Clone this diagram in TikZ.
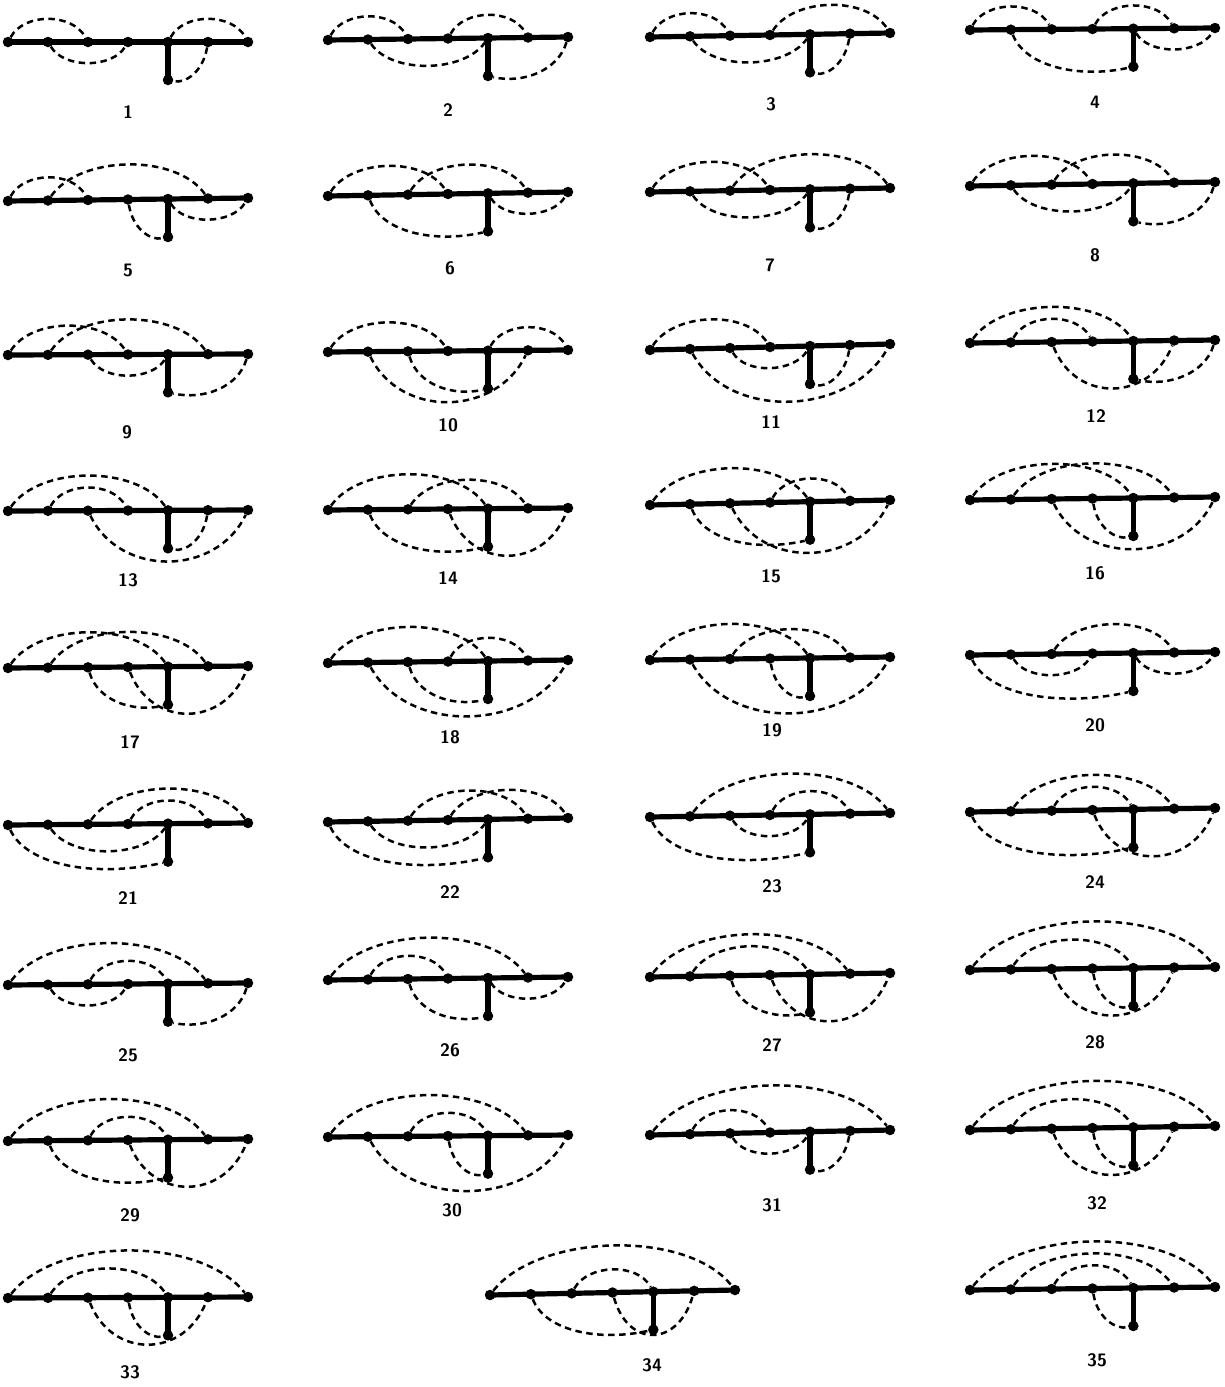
\documentclass[tikz,border=0pt]{standalone}
\usetikzlibrary{calc}
\tikzset{
  dot/.style={circle,fill=black,inner sep=0pt,minimum size=10.5pt},
  thickline/.style={line width=5.2pt},
  dasharc/.style={line width=2.5pt,dash pattern=on 6.5pt off 4.5pt},
  lab/.style={font=\fontsize{18}{18}\selectfont\sffamily\bfseries}
}
% #1 prefix, #2 xL, #3 yL, #4 xR, #5 yR, #6 label x, #7 label y, #8 label
\newcommand\Gr[8]{%
  \foreach \i in {0,...,6}{\node[dot] (#1n\i) at ({#2+(#4-#2)*\i/6},{#3+(#5-#3)*\i/6}) {};}
  \draw[thickline] (#1n0.center) -- (#1n6.center);
  \node[dot] (#1p) at ($(#1n4)+(0,38)$) {};
  \draw[thickline] (#1n4.center) -- (#1p.center);
  \node[lab] (#1l) at (#6,#7) {#8};
}
\newcommand\Up[3]{%
  \pgfmathsetmacro\hh{4/3*(10+6*(#3-#2))}
  \pgfmathsetmacro\ww{8*(#3-#2)}
  \draw[dasharc] (#1n#2) .. controls +(\ww,-\hh) and +(-\ww,-\hh) .. (#1n#3);
}
\newcommand\Dn[3]{%
  \pgfmathsetmacro\hh{ifthenelse(and(#2<4,#3>4),4/3*(34+4*(#3-#2)),4/3*(8+6*(#3-#2)))}
  \pgfmathsetmacro\ww{8*(#3-#2)}
  \draw[dasharc] (#1n#2) .. controls +(\ww,\hh) and +(-\ww,\hh) .. (#1n#3);
}
\newcommand\Pd[2]{%
  \pgfmathsetmacro\aa{40*(4-#2)}
  \pgfmathsetmacro\ca{25+0.1*abs(\aa)}
  \pgfmathsetmacro\cd{0.12*\aa}
  \pgfmathsetmacro\cb{-0.45*\aa}
  \pgfmathsetmacro\cc{0.1*abs(\aa)}
  \draw[dasharc] (#1n#2) .. controls +(\cd,\ca) and +(\cb,\cc) .. (#1p);
}
\begin{document}
\begin{tikzpicture}[x=1pt,y=-1pt]
\useasboundingbox[fill=white] (0,0) rectangle (1225,1387);
% row 1
\Gr{a}{8}{42}{248}{42}{128}{112}{1}
\Up{a}{0}{2}\Up{a}{4}{6}\Dn{a}{1}{3}\Pd{a}{5}
\Gr{b}{328}{40}{568}{37}{448}{110}{2}
\Up{b}{0}{2}\Up{b}{3}{5}\Dn{b}{1}{4}\Pd{b}{6}
\Gr{c}{650}{37}{890}{33}{771}{104}{3}
\Up{c}{0}{2}\Up{c}{3}{6}\Dn{c}{1}{4}\Pd{c}{5}
\Gr{d}{970}{30}{1215}{28}{1095}{102}{4}
\Up{d}{0}{2}\Up{d}{3}{5}\Pd{d}{1}\Dn{d}{4}{6}
% row 2
\Gr{e}{8}{201}{248}{198}{128}{270}{5}
\Up{e}{0}{2}\Up{e}{1}{5}\Pd{e}{3}\Dn{e}{4}{6}
\Gr{f}{328}{196}{568}{192}{450}{268}{6}
\Up{f}{0}{3}\Up{f}{2}{5}\Pd{f}{1}\Dn{f}{4}{6}
\Gr{g}{650}{192}{890}{188}{770}{265}{7}
\Up{g}{0}{3}\Up{g}{2}{6}\Dn{g}{1}{4}\Pd{g}{5}
\Gr{h}{970}{186}{1215}{182}{1095}{255}{8}
\Up{h}{0}{3}\Up{h}{2}{5}\Dn{h}{1}{4}\Pd{h}{6}
% row 3
\Gr{i}{8}{355}{248}{354}{127}{432}{9}
\Up{i}{0}{3}\Up{i}{1}{5}\Dn{i}{2}{4}\Pd{i}{6}
\Gr{j}{328}{352}{568}{350}{448}{425}{10}
\Up{j}{0}{3}\Up{j}{4}{6}\Dn{j}{1}{5}\Pd{j}{2}
\Gr{k}{650}{350}{890}{344}{771}{422}{11}
\Up{k}{0}{3}\Dn{k}{1}{6}\Dn{k}{2}{4}\Pd{k}{5}
\Gr{l}{970}{343}{1215}{340}{1096}{416}{12}
\Up{l}{0}{4}\Up{l}{1}{3}\Dn{l}{2}{5}\Pd{l}{6}
% row 4
\Gr{m}{8}{511}{248}{510}{128}{580}{13}
\Up{m}{0}{4}\Up{m}{1}{3}\Dn{m}{2}{6}\Pd{m}{5}
\Gr{n}{328}{510}{568}{508}{448}{578}{14}
\Up{n}{0}{4}\Up{n}{2}{5}\Pd{n}{1}\Dn{n}{3}{6}
\Gr{o}{650}{505}{890}{500}{771}{576}{15}
\Up{o}{0}{4}\Up{o}{3}{5}\Pd{o}{1}\Dn{o}{2}{6}
\Gr{q}{970}{500}{1215}{497}{1095}{573}{16}
\Up{q}{0}{4}\Up{q}{1}{5}\Dn{q}{2}{6}\Pd{q}{3}
% row 5
\Gr{r}{8}{668}{248}{666}{130}{742}{17}
\Up{r}{0}{4}\Up{r}{1}{5}\Pd{r}{2}\Dn{r}{3}{6}
\Gr{s}{328}{663}{568}{660}{450}{737}{18}
\Up{s}{0}{4}\Up{s}{3}{5}\Dn{s}{1}{6}\Pd{s}{2}
\Gr{t}{650}{660}{890}{657}{772}{730}{19}
\Up{t}{0}{4}\Up{t}{2}{5}\Dn{t}{1}{6}\Pd{t}{3}
\Gr{u}{970}{655}{1215}{652}{1095}{725}{20}
\Up{u}{2}{5}\Pd{u}{0}\Dn{u}{1}{3}\Dn{u}{4}{6}
% row 6
\Gr{v}{8}{825}{248}{823}{128}{898}{21}
\Up{v}{2}{6}\Up{v}{3}{5}\Pd{v}{0}\Dn{v}{1}{4}
\Gr{w}{328}{822}{568}{818}{450}{892}{22}
\Up{w}{2}{5}\Up{w}{3}{6}\Pd{w}{0}\Dn{w}{1}{4}
\Gr{x}{650}{817}{890}{813}{772}{886}{23}
\Up{x}{1}{6}\Up{x}{3}{5}\Pd{x}{0}\Dn{x}{2}{4}
\Gr{y}{970}{812}{1215}{808}{1095}{882}{24}
\Up{y}{1}{5}\Up{y}{2}{4}\Pd{y}{0}\Dn{y}{3}{6}
% row 7
\Gr{z}{8}{985}{248}{983}{128}{1055}{25}
\Up{z}{0}{5}\Up{z}{2}{4}\Dn{z}{1}{3}\Pd{z}{6}
\Gr{A}{328}{980}{568}{977}{450}{1050}{26}
\Up{A}{0}{5}\Up{A}{1}{3}\Pd{A}{2}\Dn{A}{4}{6}
\Gr{B}{650}{977}{890}{973}{772}{1045}{27}
\Up{B}{0}{5}\Up{B}{1}{4}\Pd{B}{2}\Dn{B}{3}{6}
\Gr{C}{970}{970}{1215}{967}{1095}{1042}{28}
\Up{C}{0}{6}\Up{C}{1}{4}\Dn{C}{2}{5}\Pd{C}{3}
% row 8
\Gr{D}{8}{1141}{248}{1139}{130}{1215}{29}
\Up{D}{0}{5}\Up{D}{2}{4}\Pd{D}{1}\Dn{D}{3}{6}
\Gr{E}{328}{1137}{568}{1135}{452}{1210}{30}
\Up{E}{0}{5}\Up{E}{2}{4}\Dn{E}{1}{6}\Pd{E}{3}
\Gr{F}{650}{1135}{890}{1130}{772}{1205}{31}
\Up{F}{0}{6}\Up{F}{1}{3}\Dn{F}{2}{4}\Pd{F}{5}
\Gr{G}{970}{1130}{1215}{1126}{1097}{1203}{32}
\Up{G}{0}{6}\Up{G}{1}{4}\Dn{G}{2}{5}\Pd{G}{3}
% row 9
\Gr{H}{8}{1298}{248}{1297}{130}{1372}{33}
\Up{H}{0}{6}\Up{H}{1}{4}\Dn{H}{2}{5}\Pd{H}{3}
\Gr{I}{490}{1295}{735}{1290}{652}{1365}{34}
\Up{I}{0}{6}\Up{I}{2}{4}\Pd{I}{1}\Dn{I}{3}{5}
\Gr{J}{970}{1290}{1215}{1287}{1097}{1360}{35}
\Up{J}{0}{6}\Up{J}{1}{5}\Up{J}{2}{4}\Pd{J}{3}
\end{tikzpicture}
\end{document}
